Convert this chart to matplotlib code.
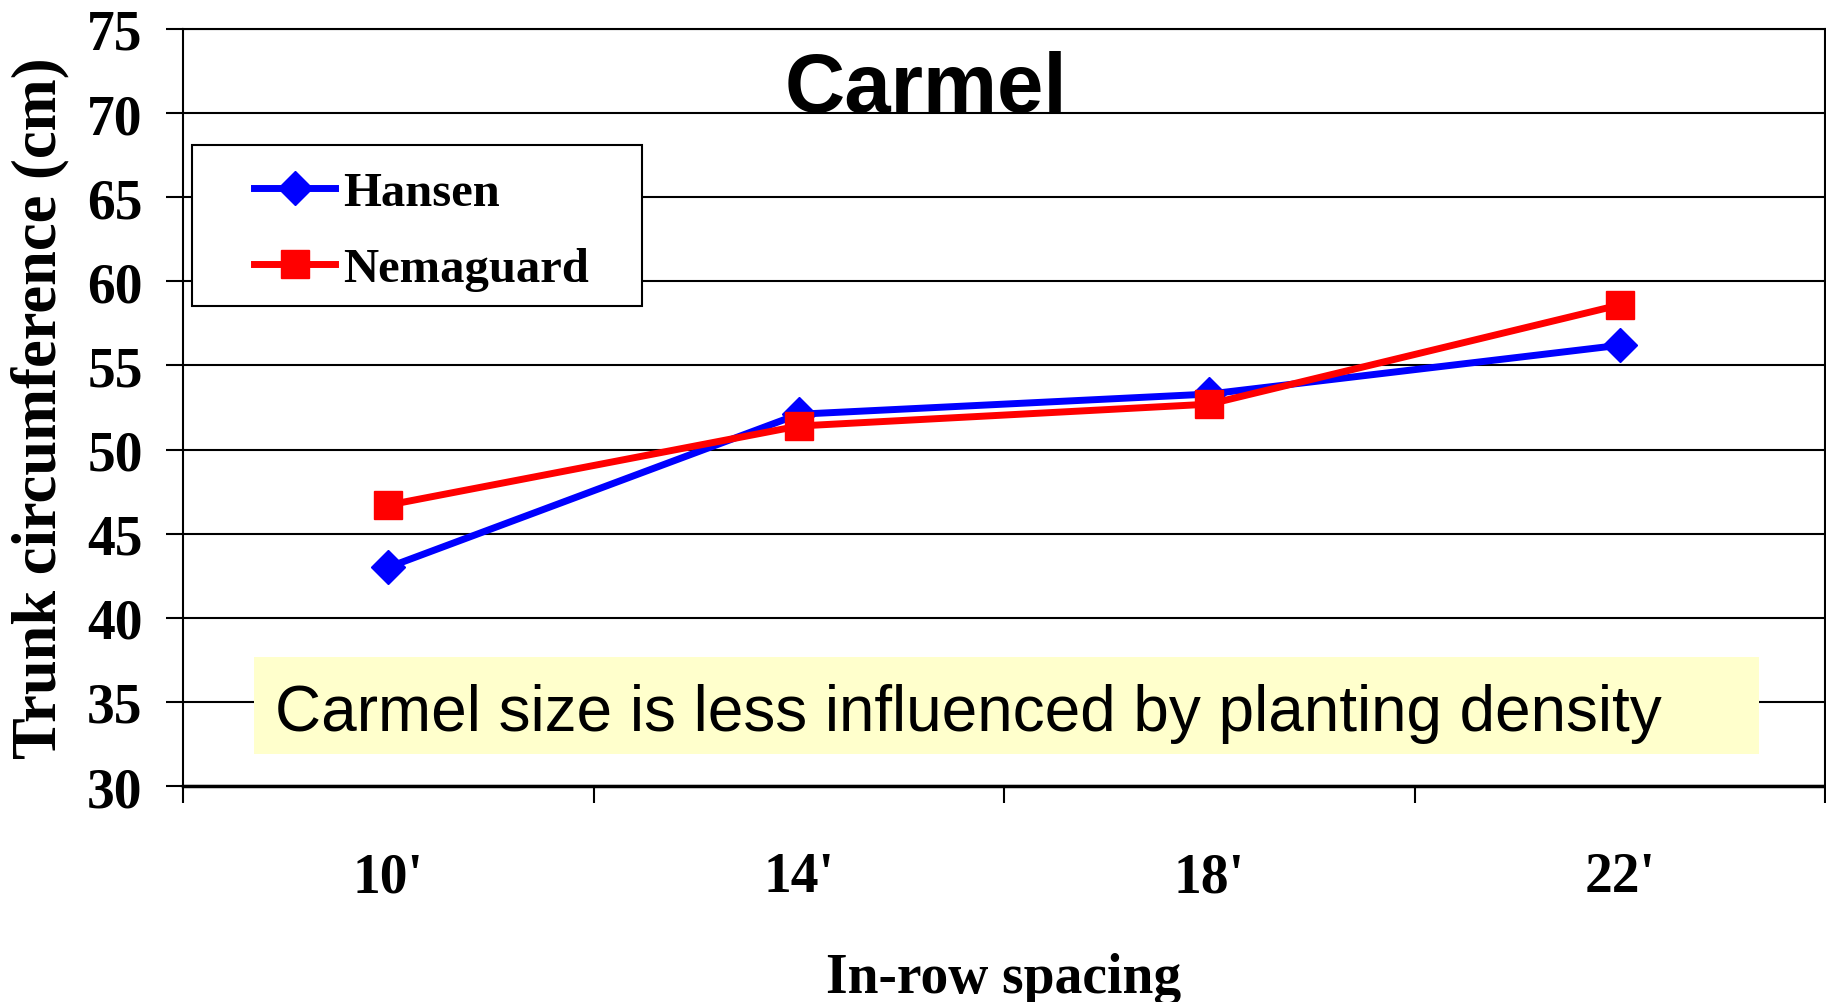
import numpy as np
import matplotlib.pyplot as plt
from matplotlib.patches import Rectangle

# data
spacing = ["10'", "14'", "18'", "22'"]
hansen = [43.0, 52.1, 53.3, 56.2]
nemaguard = [46.7, 51.4, 52.7, 58.6]

serif = 'Liberation Serif'
sans = 'Liberation Sans'

W, H = 1826, 1003
fig = plt.figure(figsize=(W / 100, H / 100), dpi=100)
ax = fig.add_axes([183 / W, 216 / H, (1825 - 183) / W, (973 - 216) / H])

x = np.arange(len(spacing))
ax.plot(x, hansen, color='#0000FF', lw=5, marker='D', ms=17, label='Hansen', zorder=3)
ax.plot(x, nemaguard, color='#FF0000', lw=5, marker='s', ms=20, label='Nemaguard', zorder=3)

ax.set_xlim(-0.5, len(spacing) - 0.5)
ax.set_ylim(30, 75)
ax.set_yticks(np.arange(30, 76, 5))
ax.set_xticks(x)
ax.set_xticklabels(spacing)
ax.set_xticks(np.arange(-0.5, len(spacing)), minor=True)
ax.tick_params(axis='x', which='major', length=0, pad=47)
ax.tick_params(axis='x', which='minor', length=12, width=1.5, direction='out')
ax.tick_params(axis='y', length=12, width=1.5, direction='out', pad=17)
for lab in ax.get_xticklabels() + ax.get_yticklabels():
    lab.set_fontfamily(serif)
    lab.set_fontweight('bold')
    lab.set_fontsize(40)

ax.set_axisbelow(True)
ax.yaxis.grid(True, color='black', lw=1.5)
for s in ['left', 'right', 'top']:
    ax.spines[s].set_linewidth(1.5)
ax.spines['bottom'].set_linewidth(2.5)

ax.set_ylabel('Trunk circumference (cm)', fontfamily=serif, fontweight='bold',
              fontsize=45, labelpad=13)
ax.set_xlabel('In-row spacing', fontfamily=serif, fontweight='bold',
              fontsize=40, labelpad=35)

ax.text(0.4525, 0.892, 'Carmel', transform=ax.transAxes, ha='center', va='baseline',
        fontfamily=sans, fontweight='bold', fontsize=60)

# yellow note box
ax.add_patch(Rectangle((254 / W, (H - 755) / H), (1759 - 254) / W, (755 - 658) / H,
                       transform=fig.transFigure, facecolor='#FFFFCC', edgecolor='none',
                       zorder=2, clip_on=False))
fig.text(275 / W, (H - 731) / H, 'Carmel size is less influenced by planting density',
         fontfamily=sans, fontsize=46, va='baseline', ha='left', zorder=6)

# legend box
ax.add_patch(Rectangle((192 / W, (H - 307) / H), 450 / W, 161 / H,
                       transform=fig.transFigure, facecolor='white', edgecolor='black',
                       lw=1.5, zorder=4, clip_on=False))
leg = ax.legend(loc='center left', bbox_to_anchor=(254 / W, (H - 232) / H),
                bbox_transform=fig.transFigure, frameon=False, borderpad=0,
                borderaxespad=0, handlelength=1.67, handletextpad=0.16,
                labelspacing=0.65, prop={'family': serif, 'weight': 'bold', 'size': 35})
leg.set_zorder(5)

fig.savefig('out.png', dpi=100)
